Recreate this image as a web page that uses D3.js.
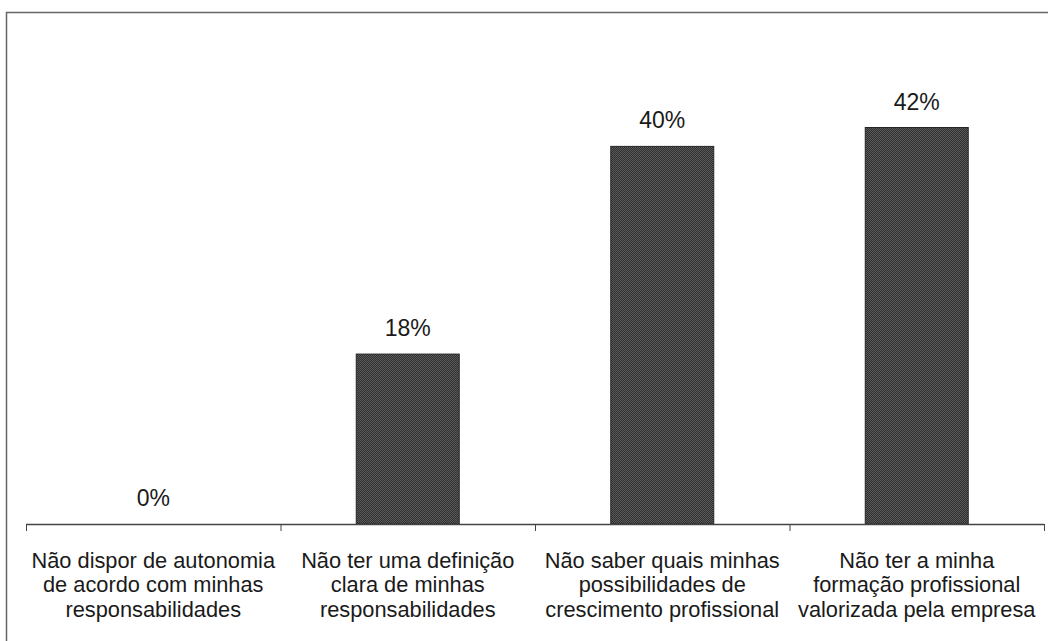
<!DOCTYPE html>
<html>
<head>
<meta charset="utf-8">
<script src="https://cdn.jsdelivr.net/npm/d3@7/dist/d3.min.js"></script>
<style>
  html, body { margin: 0; padding: 0; background: #fff; }
  svg { display: block; }
</style>
</head>
<body>
<script>
// Categories (each label split into its lines) and percentage values
const categories = [
  ["Não dispor de autonomia", "de acordo com minhas", "responsabilidades"],
  ["Não ter uma definição", "clara de minhas", "responsabilidades"],
  ["Não saber quais minhas", "possibilidades de", "crescimento profissional"],
  ["Não ter a minha", "formação profissional", "valorizada pela empresa"]
];
const values = [0, 18, 40, 42];
const valueLabels = ["0%", "18%", "40%", "42%"];

const W = 1048, H = 641;
const svg = d3.select("body").append("svg").attr("width", W).attr("height", H);

// Dithered dark fill for the bars
const defs = svg.append("defs");
const pat = defs.append("pattern")
  .attr("id", "dither").attr("patternUnits", "userSpaceOnUse")
  .attr("width", 2).attr("height", 2);
pat.append("rect").attr("width", 2).attr("height", 2).attr("fill", "#2e2e2e");
pat.append("rect").attr("x", 0).attr("y", 0).attr("width", 1).attr("height", 1).attr("fill", "#5c5c5c");
pat.append("rect").attr("x", 1).attr("y", 1).attr("width", 1).attr("height", 1).attr("fill", "#5c5c5c");

// Outer frame (runs off the right and bottom edges)
svg.append("path")
  .attr("d", `M6.5,${H + 2} V12.5 H${W + 2}`)
  .attr("fill", "none").attr("stroke", "#666").attr("stroke-width", 1.5);

const x0 = 26, x1 = 1044, baseY = 524;
const x = d3.scaleBand().domain(d3.range(categories.length)).range([x0, x1]).paddingInner(0).paddingOuter(0);
const y = d3.scaleLinear().domain([0, 42]).range([baseY, 127.5]);

const barW = 103;
const font = "'Liberation Sans', Arial, sans-serif";

// Bars
svg.selectAll("rect.bar").data(values).join("rect")
  .attr("class", "bar")
  .attr("x", (d, i) => x(i) + x.bandwidth() / 2 - barW / 2)
  .attr("y", d => y(d))
  .attr("width", barW)
  .attr("height", d => baseY - y(d))
  .attr("fill", "url(#dither)")
  .attr("stroke", d => d > 0 ? "#262626" : "none")
  .attr("stroke-width", 1);

// Category axis with boundary ticks
const axisG = svg.append("g");
axisG.append("line")
  .attr("x1", x0).attr("x2", x1).attr("y1", baseY + 0.5).attr("y2", baseY + 0.5)
  .attr("stroke", "#444").attr("stroke-width", 1.5);
const bounds = d3.range(categories.length + 1).map(i => i === categories.length ? x1 : x(i));
axisG.selectAll("line.tick").data(bounds).join("line")
  .attr("class", "tick")
  .attr("x1", d => d + 0.5).attr("x2", d => d + 0.5)
  .attr("y1", baseY).attr("y2", baseY + 7)
  .attr("stroke", "#444").attr("stroke-width", 1);

// Value labels above the bars
svg.selectAll("text.val").data(values).join("text")
  .attr("class", "val")
  .attr("x", (d, i) => x(i) + x.bandwidth() / 2)
  .attr("y", d => y(d) - 18)
  .attr("text-anchor", "middle")
  .attr("font-family", font).attr("font-size", 23)
  .attr("fill", "#1a1a1a")
  .text((d, i) => valueLabels[i]);

// Multi-line category labels
const labels = svg.selectAll("text.cat").data(categories).join("text")
  .attr("class", "cat")
  .attr("text-anchor", "middle")
  .attr("font-family", font).attr("font-size", 21.8)
  .attr("fill", "#1a1a1a");
labels.each(function(lines, i) {
  const t = d3.select(this);
  lines.forEach((ln, k) => {
    t.append("tspan")
      .attr("x", x(i) + x.bandwidth() / 2)
      .attr("y", 567.5 + k * 24.7)
      .text(ln);
  });
});
</script>
</body>
</html>
